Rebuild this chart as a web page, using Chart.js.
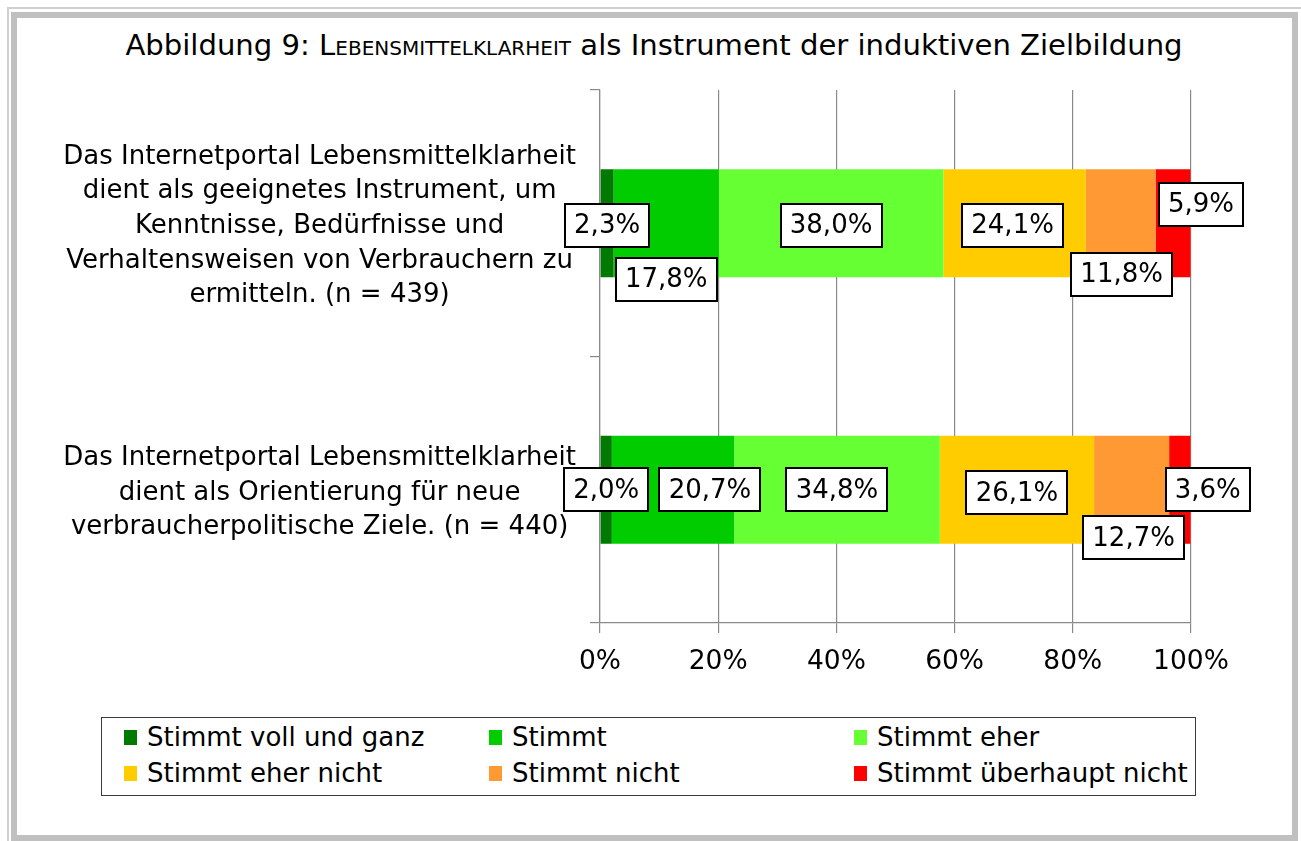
<!DOCTYPE html>
<html lang="de">
<head>
<meta charset="utf-8">
<script src="https://cdn.jsdelivr.net/npm/chart.js@4.4.1/dist/chart.umd.min.js"></script>
<style>
  html, body { margin: 0; padding: 0; background: #ffffff; }
  body { width: 1301px; height: 841px; position: relative; overflow: hidden; font-family: "DejaVu Sans", sans-serif; }
  #outerFrame { position: absolute; left: 7px; top: 7px; width: 1300px; height: 840px; border: 2px solid #cfcfcf; box-sizing: border-box; }
  #innerFrame { position: absolute; left: 11px; top: 12px; width: 1287px; height: 829px; border: 6px solid #c0c0c0; box-sizing: border-box; }
  #title { position: absolute; left: 0; width: 1308px; top: 28px; text-align: center; font-size: 29.1px; color: #000; white-space: nowrap; }
  #title .sc { font-variant: small-caps; }
  canvas#chart { position: absolute; left: 0; top: 0; }
  #legend { position: absolute; left: 101px; top: 717px; width: 1095px; height: 79px; border: 1.5px solid #3a3a3a; box-sizing: border-box; background: #fff; }
  .item { position: absolute; font-size: 26px; color: #000; white-space: nowrap; line-height: 30px; }
  .item .sw { position: absolute; left: 0; top: 8px; width: 13px; height: 15px; }
  .item .tx { position: absolute; left: 23px; top: 0; }
</style>
</head>
<body>
<div id="outerFrame"></div>
<div id="innerFrame"></div>
<div id="title">Abbildung 9: <span class="sc">Lebensmittelklarheit</span> als Instrument der induktiven Zielbildung</div>
<canvas id="chart" width="1301" height="841"></canvas>
<div id="legend"></div>
<script>
// ---- Data ----
const categories = [
  ["Das Internetportal Lebensmittelklarheit", "dient als geeignetes Instrument, um", "Kenntnisse, Bedürfnisse und", "Verhaltensweisen von Verbrauchern zu", "ermitteln. (n = 439)"],
  ["Das Internetportal Lebensmittelklarheit", "dient als Orientierung für neue", "verbraucherpolitische Ziele. (n = 440)"]
];
const seriesNames = ["Stimmt voll und ganz", "Stimmt", "Stimmt eher", "Stimmt eher nicht", "Stimmt nicht", "Stimmt überhaupt nicht"];
const stimmtVollUndGanz = [2.3, 2.0];
const stimmt = [17.8, 20.7];
const stimmtEher = [38.0, 34.8];
const stimmtEherNicht = [24.1, 26.1];
const stimmtNicht = [11.8, 12.7];
const stimmtUeberhauptNicht = [5.9, 3.6];
const xTicks = [0, 20, 40, 60, 80, 100];

// ---- Styles ----
const seriesColors = ["#007a00", "#00cc00", "#66ff33", "#ffcc00", "#ff9933", "#ff0000"];
// label box nudges (px) per series, per category, to mimic the original placement
const labelNudge = [
  [[0, 2], [0, 0]],
  [[0, 56], [37, 0]],
  [[0, 2], [0, 0]],
  [[-2, 2], [0, 3]],
  [[1, 51], [2, 48]],
  [[28, -19], [28, 0]]
];
const FONT = '"DejaVu Sans", sans-serif';

const seriesValues = [stimmtVollUndGanz, stimmt, stimmtEher, stimmtEherNicht, stimmtNicht, stimmtUeberhauptNicht];

// legend (HTML, built from the series arrays)
const legendEl = document.getElementById('legend');
const colX = [22, 387, 752];
const rowY = [4, 40];
seriesNames.forEach((name, i) => {
  const d = document.createElement('div');
  d.className = 'item';
  d.style.left = colX[i % 3] + 'px';
  d.style.top = rowY[Math.floor(i / 3)] + 'px';
  d.innerHTML = '<span class="sw" style="background:' + seriesColors[i] + '"></span><span class="tx"></span>';
  d.querySelector('.tx').textContent = name;
  legendEl.appendChild(d);
});

const fmt = v => v.toFixed(1).replace('.', ',') + '%';

const boxLabels = {
  id: 'boxLabels',
  afterDatasetsDraw(chart) {
    const ctx = chart.ctx;
    ctx.save();
    ctx.font = '26px ' + FONT;
    ctx.textAlign = 'center';
    ctx.textBaseline = 'middle';
    chart.data.datasets.forEach((ds, di) => {
      const meta = chart.getDatasetMeta(di);
      meta.data.forEach((bar, i) => {
        const v = ds.data[i];
        const txt = fmt(v);
        const n = labelNudge[di][i];
        const cx = (bar.x + bar.base) / 2 + n[0];
        const cy = bar.y + n[1];
        const w = Math.round(ctx.measureText(txt).width + 18);
        const h = 43;
        const x0 = Math.round(cx - w / 2), y0 = Math.round(cy - h / 2);
        ctx.fillStyle = '#ffffff';
        ctx.fillRect(x0, y0, w, h);
        ctx.lineWidth = 2;
        ctx.strokeStyle = '#000000';
        ctx.strokeRect(x0, y0, w, h);
        ctx.fillStyle = '#000000';
        ctx.fillText(txt, cx, cy + 1);
      });
    });
    ctx.restore();
  }
};

new Chart(document.getElementById('chart'), {
  type: 'bar',
  data: {
    labels: categories,
    datasets: seriesNames.map((name, i) => ({
      label: name,
      data: seriesValues[i],
      backgroundColor: seriesColors[i],
      borderWidth: 0,
      barPercentage: 0.405,
      categoryPercentage: 1.0
    }))
  },
  options: {
    indexAxis: 'y',
    responsive: false,
    animation: false,
    layout: { padding: { left: 17, top: 90, right: 110, bottom: 158 } },
    plugins: { legend: { display: false }, title: { display: false }, tooltip: { enabled: false } },
    scales: {
      x: {
        stacked: true,
        min: 0, max: 100,
        afterBuildTicks: s => { s.ticks = xTicks.map(v => ({ value: v })); },
        afterFit: s => { s.height = 60; },
        ticks: { callback: v => v + '%', color: '#000', font: { family: FONT, size: 26.5 }, padding: 13 },
        grid: { color: '#8a8a8a', lineWidth: 1.2, tickLength: 10 },
        border: { color: '#8a8a8a', width: 1.2 }
      },
      y: {
        stacked: true,
        afterFit: s => { s.width = 583; },
        ticks: { color: '#000', crossAlign: 'center', padding: 14, labelOffset: 3, font: { family: FONT, size: 26, lineHeight: 1.335 } },
        grid: { drawOnChartArea: false, color: '#8a8a8a', lineWidth: 1.2, tickLength: 10 },
        border: { color: '#8a8a8a', width: 1.2 }
      }
    }
  },
  plugins: [boxLabels]
});
</script>
</body>
</html>
